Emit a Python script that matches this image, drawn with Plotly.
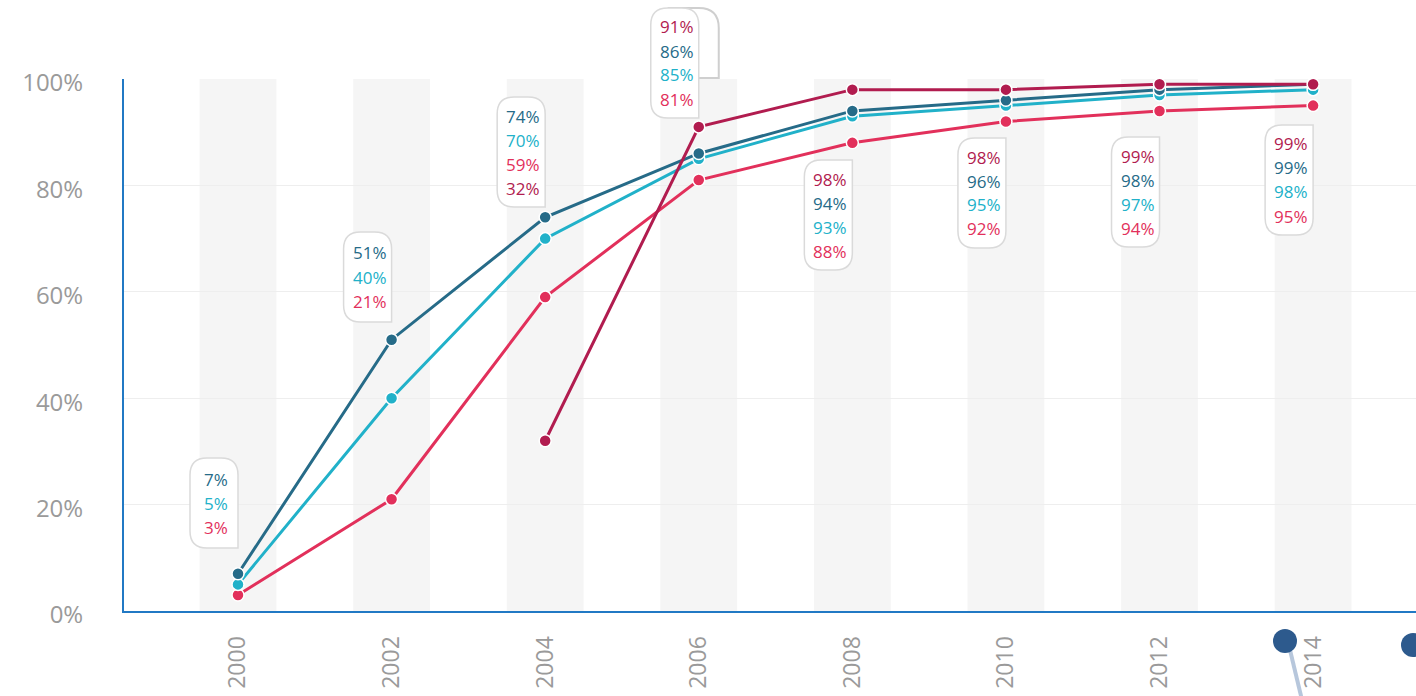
import plotly.graph_objects as go

# ---------------- data ----------------
years = [2000, 2002, 2004, 2006, 2008, 2010, 2012, 2014]
year_labels = ["2000", "2002", "2004", "2006", "2008", "2010", "2012", "2014"]
crimson_vals = [None, None, 32, 91, 98, 98, 99, 99]
dark_vals = [7, 51, 74, 86, 94, 96, 98, 99]
cyan_vals = [5, 40, 70, 85, 93, 95, 97, 98]
red_vals = [3, 21, 59, 81, 88, 92, 94, 95]
y_ticks = [0, 20, 40, 60, 80, 100]
y_tick_labels = ["0%", "20%", "40%", "60%", "80%", "100%"]

# ---------------- styles / layout constants ----------------
W, H = 1416, 696
PL, PT, PB = 124, 79, 611    # plot left, top, bottom in page px
PR = 1416
X0, X1 = 1998.5155, 2015.340
FONT = "Open Sans"
COL = {"crimson": "#b11c4f", "dark": "#266b88", "cyan": "#21b1c9", "red": "#e2305b"}
AXIS_BLUE = "#2179c4"

series = [  # order used for sorting labels (ties: first wins)
    ("crimson", crimson_vals),
    ("dark", dark_vals),
    ("cyan", cyan_vals),
    ("red", red_vals),
]
draw_order = ["red", "cyan", "dark", "crimson"]

# label-box layout (page-pixel top of each callout, and whether it sits above points)
box_top_px = [458, 232, 97, 8, 160, 138, 137, 125]
box_above = [True, True, True, True, False, False, False, False]
BOX_W, LINE_H, R = 48, 24, 17


def px_to_paper_x(px):
    return (px - PL) / (PR - PL)


def px_to_paper_y(py):
    return (PB - py) / (PB - PT)


def year_to_paper(yr):
    return (yr - X0) / (X1 - X0)


fig = go.Figure()

vals_by_name = dict(series)
for name in draw_order:
    fig.add_trace(go.Scatter(
        x=years, y=vals_by_name[name], mode="lines+markers",
        line=dict(color=COL[name], width=3),
        marker=dict(size=12, color=COL[name], line=dict(color="white", width=1.5)),
        connectgaps=False, showlegend=False, hoverinfo="skip",
    ))

shapes = []
for yr in years:
    shapes.append(dict(type="rect", xref="x", yref="paper", x0=yr - 0.5, x1=yr + 0.5,
                       y0=0, y1=1, fillcolor="#f5f5f5", line=dict(width=0), layer="below"))

annotations = []


def box_path(h, above):
    w, r = BOX_W, R
    if above:  # sharp bottom-right corner
        return (f"M {-w + r},0 L {-r},0 Q 0,0 0,{-r} L 0,{-h} L {-w + r},{-h} "
                f"Q {-w},{-h} {-w},{-h + r} L {-w},{-r} Q {-w},0 {-w + r},0 Z")
    else:      # sharp top-right corner
        return (f"M {-w + r},0 L 0,0 L 0,{-h + r} Q 0,{-h} {-r},{-h} L {-w + r},{-h} "
                f"Q {-w},{-h} {-w},{-h + r} L {-w},{-r} Q {-w},0 {-w + r},0 Z")


for i, yr in enumerate(years):
    entries = [(name, vals[i]) for name, vals in series if vals[i] is not None]
    entries = sorted(entries, key=lambda e: -e[1])
    n = len(entries)
    h = 90 if n == 3 else 110
    top = box_top_px[i]
    xa = year_to_paper(yr)
    if yr == 2006:
        shapes.append(dict(type="path", xref="paper", yref="paper",
                           xsizemode="pixel", ysizemode="pixel",
                           xanchor=xa, yanchor=px_to_paper_y(top),
                           path="M -30,0 L 0,0 Q 20,0 20,-20 L 20,-70 L -30,-70 Z",
                           fillcolor="white", line=dict(color="#cfcfcf", width=2)))
    shapes.append(dict(type="path", xref="paper", yref="paper",
                       xsizemode="pixel", ysizemode="pixel",
                       xanchor=xa, yanchor=px_to_paper_y(top),
                       path=box_path(h, box_above[i]),
                       fillcolor="white", line=dict(color="#dadada", width=1.5)))
    pad = (h - (n - 1) * LINE_H) / 2
    for j, (name, v) in enumerate(entries):
        annotations.append(dict(
            xref="paper", yref="paper", x=xa, xshift=-BOX_W / 2 + 2,
            y=px_to_paper_y(top + pad + j * LINE_H), text=f"{v}%", showarrow=False,
            xanchor="center", yanchor="middle",
            font=dict(family=FONT, size=17, color=COL[name])))

# decorative slider handles at the bottom right
shapes.append(dict(type="line", xref="paper", yref="paper",
                   x0=px_to_paper_x(1290), y0=px_to_paper_y(650),
                   x1=px_to_paper_x(1302), y1=px_to_paper_y(700),
                   line=dict(color="#b7c7dc", width=4)))
for cx, cy in [(1285, 641), (1413, 645)]:
    shapes.append(dict(type="circle", xref="paper", yref="paper",
                       x0=px_to_paper_x(cx - 12), x1=px_to_paper_x(cx + 12),
                       y0=px_to_paper_y(cy + 12), y1=px_to_paper_y(cy - 12),
                       fillcolor="#2d5a8d", line=dict(width=0)))

fig.update_layout(
    width=W, height=H,
    margin=dict(l=PL, r=W - PR, t=PT, b=H - PB, pad=0),
    plot_bgcolor="white", paper_bgcolor="white",
    font=dict(family=FONT, color="#9a9a9a"),
    shapes=shapes, annotations=annotations,
    xaxis=dict(range=[X0, X1], tickvals=years, ticktext=year_labels, tickangle=-90,
               showgrid=False, zeroline=False, showline=True, linecolor=AXIS_BLUE,
               linewidth=2, ticks="", tickfont=dict(size=23, color="#9a9a9a", family=FONT),
               ticklabelstandoff=14, fixedrange=True),
    yaxis=dict(range=[0, 100], tickvals=y_ticks, ticktext=y_tick_labels,
               showgrid=True, gridcolor="#eeeeee", gridwidth=1, zeroline=False,
               showline=True, linecolor=AXIS_BLUE, linewidth=2, ticks="",
               tickfont=dict(size=24, color="#9a9a9a", family=FONT),
               ticklabelstandoff=34, ticklabelshift=4, fixedrange=True),
)

fig.write_html(
    "out.html",
    config={"displayModeBar": False},
    post_script="document.body.style.margin='0';document.body.style.overflow='hidden';",
)
